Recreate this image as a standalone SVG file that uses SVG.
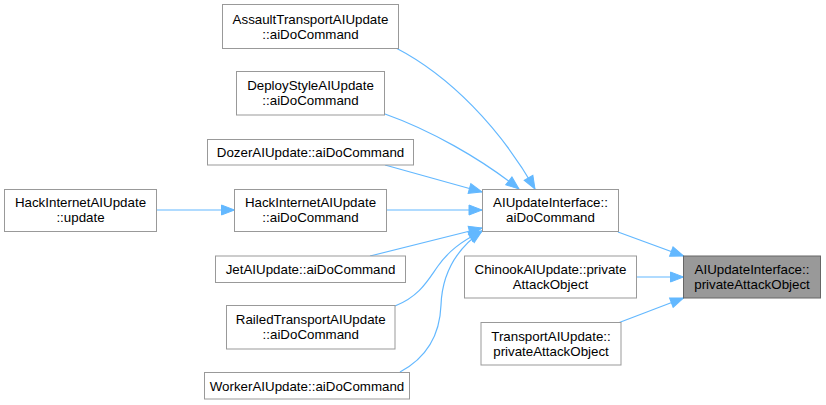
<svg xmlns="http://www.w3.org/2000/svg" width="826" height="405" viewBox="0 0 826 405">
<style>
.box{fill:#ffffff;stroke:#999999;stroke-width:1}
.hl{fill:#999999;stroke:#666666;stroke-width:1}
text{font-family:"Liberation Sans",Arial,sans-serif;font-size:13.33px;fill:#000000;text-anchor:middle}
.edge{fill:none;stroke:#63b8ff;stroke-width:1.2}
</style>
<defs>
<marker id="arr" markerUnits="userSpaceOnUse" markerWidth="16" markerHeight="14" viewBox="-14 -7 16 14" refX="0" refY="0" orient="auto">
<path d="M0,0 L-13,-5 L-13,5 Z" fill="#63b8ff" stroke="#63b8ff" stroke-width="1"/>
</marker>
</defs>
<rect width="826" height="405" fill="#ffffff"/>
<g id="edges">
<path class="edge" marker-end="url(#arr)" d="M396,48 C450,76 500,128 535,189"/>
<path class="edge" marker-end="url(#arr)" d="M385,114 C430,130 480,158 519,189"/>
<path class="edge" marker-end="url(#arr)" d="M385,165 L482,192"/>
<path class="edge" marker-end="url(#arr)" d="M386.5,210 L482,210"/>
<path class="edge" marker-end="url(#arr)" d="M370,256 L482,228"/>
<path class="edge" marker-end="url(#arr)" d="M395,306 C420,296 428,280 438,266 C448,252 460,242 482,231"/>
<path class="edge" marker-end="url(#arr)" d="M400,372 C430,356 440,332 441,305 C442,278 452,252 482,231"/>
<path class="edge" marker-end="url(#arr)" d="M156.5,210 L234.5,210"/>
<path class="edge" marker-end="url(#arr)" d="M618,232 L683.5,256"/>
<path class="edge" marker-end="url(#arr)" d="M636.5,277 L683.5,277"/>
<path class="edge" marker-end="url(#arr)" d="M618,323 L683.5,298"/>
</g>
<g id="assault">
<rect class="box" x="222.5" y="4.5" width="176" height="44"/>
<text x="310.5" y="23.5">AssaultTransportAIUpdate</text>
<text x="310.5" y="38.5">::aiDoCommand</text>
</g>
<g id="deploy">
<rect class="box" x="236.5" y="71.5" width="148" height="43.5"/>
<text x="310.5" y="90">DeployStyleAIUpdate</text>
<text x="310.5" y="105">::aiDoCommand</text>
</g>
<g id="dozer">
<rect class="box" x="207.5" y="139.5" width="206" height="25.5"/>
<text x="310.5" y="156.5">DozerAIUpdate::aiDoCommand</text>
</g>
<g id="hackupdate">
<rect class="box" x="4.5" y="189.5" width="152" height="42"/>
<text x="80.5" y="207.25">HackInternetAIUpdate</text>
<text x="80.5" y="222.25">::update</text>
</g>
<g id="hackaido">
<rect class="box" x="234.5" y="189.5" width="152" height="42"/>
<text x="310.5" y="207.25">HackInternetAIUpdate</text>
<text x="310.5" y="222.25">::aiDoCommand</text>
</g>
<g id="jet">
<rect class="box" x="215.5" y="256" width="190" height="26.5"/>
<text x="310.5" y="273.5">JetAIUpdate::aiDoCommand</text>
</g>
<g id="railed">
<rect class="box" x="226.5" y="305.5" width="168.5" height="43.5"/>
<text x="310.75" y="324">RailedTransportAIUpdate</text>
<text x="310.75" y="339">::aiDoCommand</text>
</g>
<g id="worker">
<rect class="box" x="204.5" y="372.5" width="205" height="26.5"/>
<text x="307" y="390.5">WorkerAIUpdate::aiDoCommand</text>
</g>
<g id="aiupdate_aido">
<rect class="box" x="482.5" y="189.5" width="136" height="42"/>
<text x="550.5" y="207.25">AIUpdateInterface::</text>
<text x="550.5" y="222.25">aiDoCommand</text>
</g>
<g id="chinook">
<rect class="box" x="464.5" y="256" width="172" height="42"/>
<text x="550.5" y="274">ChinookAIUpdate::private</text>
<text x="550.5" y="289">AttackObject</text>
</g>
<g id="transport">
<rect class="box" x="481" y="322.5" width="140" height="42.5"/>
<text x="551" y="340.75">TransportAIUpdate::</text>
<text x="551" y="355.75">privateAttackObject</text>
</g>
<g id="target">
<rect class="hl" x="683.5" y="256" width="137" height="42"/>
<text x="752" y="274">AIUpdateInterface::</text>
<text x="752" y="289">privateAttackObject</text>
</g>
</svg>
